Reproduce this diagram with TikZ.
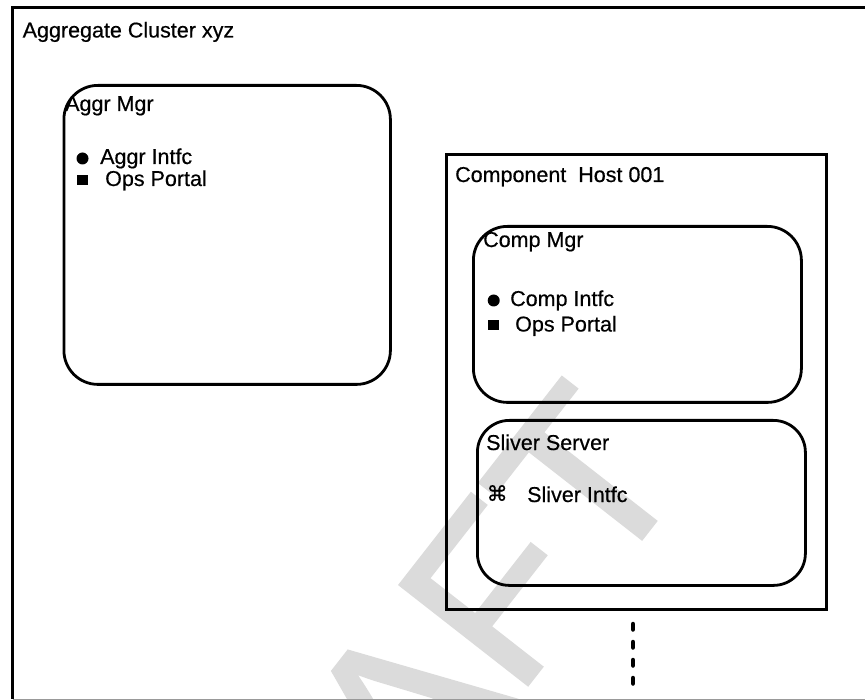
\documentclass[tikz,border=0pt]{standalone}
\usepackage{fontspec}
\setmainfont[FakeBold=0.5]{Liberation Sans}
\newfontfamily\symfont[FakeBold=0.5]{DejaVu Sans}
\newfontfamily\wmfont[FakeBold=1.5]{Liberation Sans}
\begin{document}
\begin{tikzpicture}[x=1pt,y=-1pt,
  mgrbox/.style={draw, line width=2.8pt, rounded corners=34pt, anchor=north west, inner sep=0},
  hostbox/.style={draw, line width=3pt, anchor=north west, inner sep=0},
  lbl/.style={anchor=base west, inner sep=0, font=\fontsize{21.5}{25}\selectfont},
  dotb/.style={circle, fill, minimum size=12pt, inner sep=0},
  sqb/.style={rectangle, fill, minimum width=11pt, minimum height=10.5pt, inner sep=0},
]
\useasboundingbox (0,0) rectangle (865,700);
% watermark
\node[text=black!14, font=\wmfont\fontsize{235}{235}\selectfont, rotate=52, inner sep=0] (wm) at (388,732) {DRAFT};
% outer frame
\coordinate (oTR) at (868,7.5);
\coordinate (oTL) at (12.5,7.5);
\coordinate (oBL) at (12.5,699);
\coordinate (oBR) at (868,699);
\draw[line width=3pt] (oTR) -- (oTL) -- (oBL);
\draw[black!40, line width=1pt] (oBL) -- (oBR);
\node[lbl] (title) at (22.5,37.5) {Aggregate Cluster xyz};
% Aggr Mgr
\node[mgrbox, minimum width=326.5pt, minimum height=299pt] (aggr) at (62.5,84) {};
\node[lbl] (aggrt) at (65,111) {Aggr Mgr};
\node[dotb] (ab1) at (82.5,158.5) {};
\node[lbl] (ai) at (100,164) {Aggr Intfc};
\node[sqb] (ab2) at (82.3,180) {};
\node[lbl] (aop) at (105,186) {Ops Portal};
% Component host
\node[hostbox, minimum width=380pt, minimum height=454.5pt] (host) at (444.5,153) {};
\node[lbl] (hostt) at (455,182) {Component\ \ Host 001};
% Comp Mgr
\node[mgrbox, minimum width=328pt, minimum height=176pt] (comp) at (472,225) {};
\node[lbl] (compt) at (483,247) {Comp Mgr};
\node[dotb] (cb1) at (493.7,300.5) {};
\node[lbl] (ci) at (510,306) {Comp Intfc};
\node[sqb] (cb2) at (493.3,325) {};
\node[lbl] (cop) at (515,331.5) {Ops Portal};
% Sliver Server
\node[mgrbox, rounded corners=32pt, minimum width=328pt, minimum height=165pt] (sliv) at (476,419) {};
\node[lbl] (slivt) at (486,450) {Sliver Server};
\node[inner sep=0, anchor=base west, font=\symfont\fontsize{21}{24}\selectfont] (sk) at (486.5,501) {⌘};
\node[lbl] (si) at (527,502) {Sliver Intfc};
% continuation dots
\coordinate (d1) at (633,624);
\coordinate (d2) at (633,686);
\draw[line width=4.5pt, line cap=round, dash pattern=on 5.5pt off 12.5pt] (d1) -- (d2);
\end{tikzpicture}
\end{document}
